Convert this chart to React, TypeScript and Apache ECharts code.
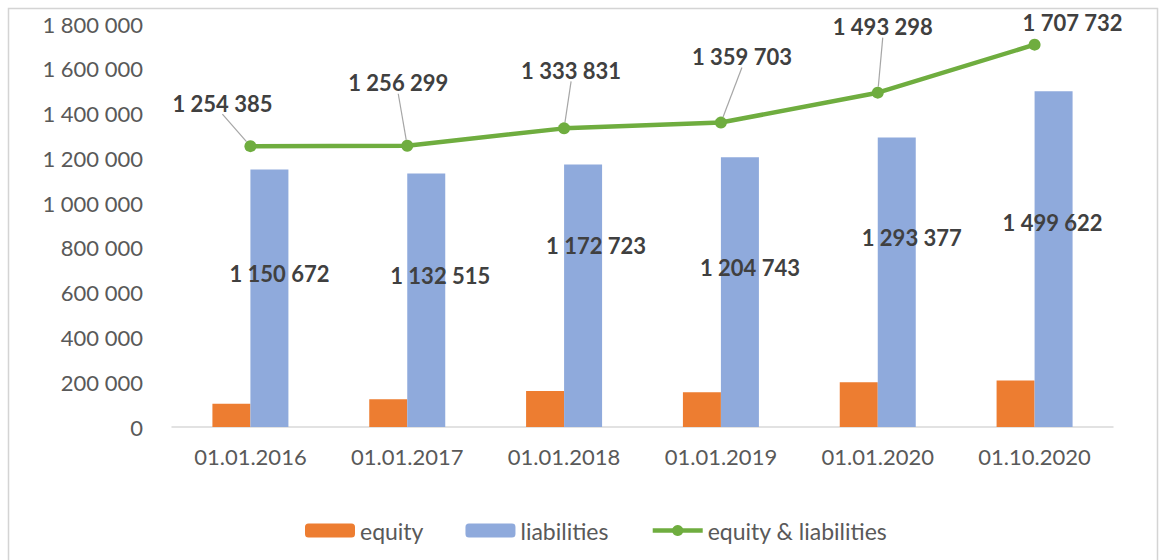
import React, { useEffect, useRef } from "react";
import * as echarts from "echarts";

const categories = ["01.01.2016", "01.01.2017", "01.01.2018", "01.01.2019", "01.01.2020", "01.10.2020"];
const equity = [103713, 123784, 161108, 154960, 199921, 208110];
const liabilities = [1150672, 1132515, 1172723, 1204743, 1293377, 1499622];
const total = [1254385, 1256299, 1333831, 1359703, 1493298, 1707732];
const yMin = 0;
const yMax = 1800000;
const yStep = 200000;

// label placement (pixel shifts of the data labels, as dragged in the original)
const barLabelShift = [[10, -25], [14, -25], [13, -50], [10, -25], [15, -45], [-1, -37]];
const lineLabelShift = [[-28, -21], [-9, -41], [7, -36], [21, -44], [5, -44], [38, 0]];
const lineLabelGuide = [true, true, true, true, true, false];

const fmt = (v: number) => String(v).replace(/\B(?=(\d{3})+(?!\d))/g, " ");

const FONT = "Lato";
const GREEN = "#6FAD3F";

export default function App() {
  const ref = useRef<HTMLDivElement>(null);
  useEffect(() => {
    if (!ref.current) return;
    const chart = echarts.init(ref.current, undefined, { renderer: "svg" });
    chart.setOption({
      animation: false,
      textStyle: { fontFamily: FONT },
      graphic: [
        {
          type: "rect",
          shape: { x: 8.5, y: 8.5, width: 1149, height: 620 },
          style: { fill: "none", stroke: "#d4d4d4", lineWidth: 1.5 },
          silent: true,
        },
      ],
      grid: { left: 172, right: 49, top: 24, bottom: 133 },
      legend: {
        left: 300,
        top: 514,
        itemWidth: 50,
        itemHeight: 14,
        itemGap: 42,
        textStyle: { fontFamily: FONT, fontSize: 23, color: "#595959" },
        data: [
          { name: "equity" },
          { name: "liabilities" },
          { name: "equity & liabilities", lineStyle: { width: 4.5, color: GREEN }, itemStyle: { color: GREEN } },
        ],
      },
      xAxis: {
        type: "category",
        data: categories,
        axisLine: { lineStyle: { color: "#d9d9d9", width: 1.5 } },
        axisTick: { show: false },
        axisLabel: { fontFamily: FONT, fontSize: 22, color: "#595959", margin: 18 },
      },
      yAxis: {
        type: "value",
        min: yMin,
        max: yMax,
        interval: yStep,
        splitLine: { show: false },
        axisLine: { show: false },
        axisTick: { show: false },
        axisLabel: { fontFamily: FONT, fontSize: 22, color: "#595959", margin: 29, formatter: (v: number) => fmt(v) },
      },
      series: [
        {
          name: "equity",
          type: "bar",
          data: equity,
          barWidth: 38,
          barGap: "0%",
          itemStyle: { color: "#ED7D31" },
        },
        {
          name: "liabilities",
          type: "bar",
          barWidth: 38,
          barGap: "0%",
          itemStyle: { color: "#8FAADC" },
          label: {
            show: true,
            position: "inside",
            fontFamily: FONT,
            fontSize: 22,
            fontWeight: "bold",
            color: "#404040",
            formatter: (p: any) => fmt(p.value),
          },
          data: liabilities.map((v, i) => ({ value: v, label: { offset: barLabelShift[i] } })),
        },
        {
          name: "equity & liabilities",
          type: "line",
          symbol: "circle",
          symbolSize: 12,
          lineStyle: { color: GREEN, width: 4.5 },
          itemStyle: { color: GREEN },
          label: {
            show: true,
            position: "top",
            fontFamily: FONT,
            fontSize: 22,
            fontWeight: "bold",
            color: "#404040",
            formatter: (p: any) => fmt(p.value),
          },
          labelLine: { show: true, lineStyle: { color: "#a6a6a6", width: 1.2 } },
          labelLayout: (p: any) => ({ dx: lineLabelShift[p.dataIndex][0], dy: lineLabelShift[p.dataIndex][1] }),
          data: total.map((v, i) => ({ value: v, labelLine: { show: lineLabelGuide[i] } })),
          z: 5,
        },
      ],
    });
    return () => chart.dispose();
  }, []);
  return <div ref={ref} style={{ position: "absolute", left: 0, top: 0, width: 1162, height: 560 }} />;
}
